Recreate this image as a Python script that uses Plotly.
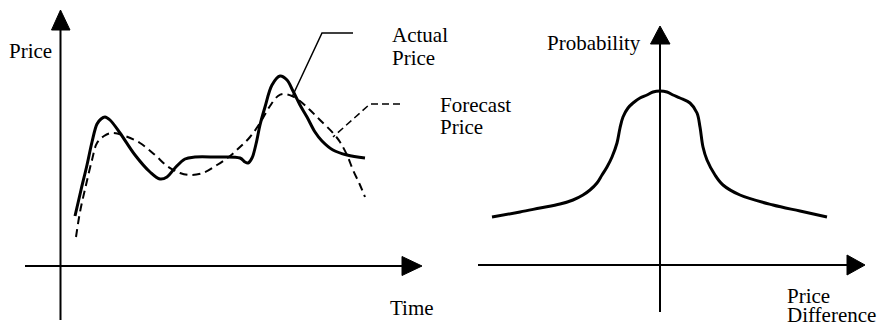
import plotly.graph_objects as go

W, H = 878, 325

# ---- Left panel: price over time (axis units, origin at the axis crossing) ----
actual_t = [14.5, 20.5, 26.5, 31.5, 36.5, 40.5, 44.5, 49.5, 59.5, 74.5, 89.5, 99.5, 106.5,
            114.5, 124.5, 134.5, 154.5, 179.5, 184.5, 187.5, 191.5, 195.5, 199.5, 204.5,
            211.5, 219.5, 226.5, 232.5, 239.5, 246.5, 254.5, 261.5, 272.5, 286.5, 304.5]
actual_p = [50, 76, 101, 124, 142, 147, 149, 146, 133, 111, 94, 87, 89,
            98, 107, 109, 109, 108, 104, 103, 108, 122, 141, 159,
            181, 190, 186, 175, 161, 149, 134, 125, 116, 111, 108]

forecast_t = [15.5, 19.5, 25.5, 31.5, 36.5, 43.5, 51.5, 64.5, 79.5, 94.5, 106.5, 119.5,
              129.5, 142.5, 156.5, 169.5, 179.5, 189.5, 199.5, 209.5, 217.5, 222.5, 231.5,
              239.5, 249.5, 259.5, 272.5, 279.5, 286.5, 292.5, 299.5, 304.5]
forecast_p = [29, 54, 81, 106, 123, 130, 133, 130, 123, 111, 100, 93,
              91, 93, 101, 110, 119, 129, 143, 160, 170, 172, 170,
              165, 156, 146, 133, 124, 111, 96, 81, 69]

# label leader lines
actual_lead_t = [292.5, 261.5, 231.5]
actual_lead_p = [233, 233, 169]
forecast_lead_t = [339.5, 309.5, 272.5]
forecast_lead_p = [162, 162, 129]

# ---- Right panel: probability of the price difference ----
diff = [-168, -140, -120, -100, -87, -77, -70, -63, -58, -53, -48, -43, -40, -37, -32, -27,
        -20, -13, -7, 0, 7, 13, 20, 30, 37, 40, 43, 47, 55, 63, 80, 113, 140, 167]
prob = [48, 53, 57, 61, 65, 70, 75, 82, 90, 98, 108, 122, 137, 148, 157, 162,
        167, 170, 173, 174, 173, 170, 167, 162, 152, 138, 118, 105, 90, 80, 70, 60, 54, 48]

# pixel placement of each panel's origin
L_ORIGIN = (60.5, 266)
R_ORIGIN = (660, 265)

fig = go.Figure()

fig.add_trace(go.Scatter(x=actual_t, y=actual_p, mode="lines",
                         line=dict(color="black", width=3, shape="spline", smoothing=1),
                         xaxis="x", yaxis="y", hoverinfo="skip"))
fig.add_trace(go.Scatter(x=forecast_t, y=forecast_p, mode="lines",
                         line=dict(color="black", width=2, dash="8px,5px", shape="spline", smoothing=1),
                         xaxis="x", yaxis="y", hoverinfo="skip"))
fig.add_trace(go.Scatter(x=actual_lead_t, y=actual_lead_p, mode="lines",
                         line=dict(color="black", width=1.5),
                         xaxis="x", yaxis="y", hoverinfo="skip"))
fig.add_trace(go.Scatter(x=forecast_lead_t, y=forecast_lead_p, mode="lines",
                         line=dict(color="black", width=1.5, dash="7px,4px"),
                         xaxis="x", yaxis="y", hoverinfo="skip"))
fig.add_trace(go.Scatter(x=diff, y=prob, mode="lines",
                         line=dict(color="black", width=3, shape="spline", smoothing=1),
                         xaxis="x2", yaxis="y2", hoverinfo="skip"))

# hand-drawn style axes with filled arrowheads
def axis_pair(xr, yr, x_from, x_to, y_from, y_to, head_len, head_half):
    shapes = [
        dict(type="line", xref=xr, yref=yr, x0=x_from, x1=x_to, y0=0, y1=0,
             line=dict(color="black", width=2)),
        dict(type="line", xref=xr, yref=yr, x0=0, x1=0, y0=y_from, y1=y_to,
             line=dict(color="black", width=2)),
        dict(type="path", xref=xr, yref=yr, fillcolor="black", line=dict(color="black", width=1),
             path=f"M {x_to},{-head_half} L {x_to + head_len},0 L {x_to},{head_half} Z"),
        dict(type="path", xref=xr, yref=yr, fillcolor="black", line=dict(color="black", width=1),
             path=f"M {-head_half + 0.5},{y_to} L 0,{y_to + head_len} L {head_half},{y_to} Z"),
    ]
    return shapes

shapes = axis_pair("x", "y", -35.5, 341.5, -54, 236, 20, 9.5)
shapes += axis_pair("x2", "y2", -182, 187, -47, 221, 18, 10)
fig.update_layout(shapes=shapes)

FONT = dict(family="Liberation Serif", size=21, color="black")

def label(text, left_px, baseline_px):
    return dict(text=text, xref="paper", yref="paper",
                x=left_px / W, y=1 - (baseline_px - 7) / H,
                xanchor="left", yanchor="middle", showarrow=False, font=FONT,
                borderpad=0)

fig.update_layout(annotations=[
    label("Price", 8, 58),
    label("Time", 389, 315),
    label("Actual", 391, 42),
    label("Price", 391, 65),
    label("Forecast", 439, 112),
    label("Price", 439, 134),
    label("Probability", 546, 50),
    label("Price", 786, 303),
    label("Difference", 786, 322),
])

fig.update_layout(
    width=W, height=H,
    margin=dict(l=0, r=0, t=0, b=0),
    paper_bgcolor="white", plot_bgcolor="white",
    showlegend=False,
    xaxis=dict(domain=[0, 439 / W], range=[-L_ORIGIN[0], 439 - L_ORIGIN[0]], visible=False, fixedrange=True),
    yaxis=dict(domain=[0, 1], range=[L_ORIGIN[1] - H, L_ORIGIN[1]], visible=False, fixedrange=True),
    xaxis2=dict(domain=[439 / W, 1], range=[439 - R_ORIGIN[0], W - R_ORIGIN[0]], visible=False, fixedrange=True),
    yaxis2=dict(domain=[0, 1], range=[R_ORIGIN[1] - H, R_ORIGIN[1]], visible=False, fixedrange=True,
                anchor="x2"),
)

fig.write_html("out.html", config=dict(displayModeBar=False))
